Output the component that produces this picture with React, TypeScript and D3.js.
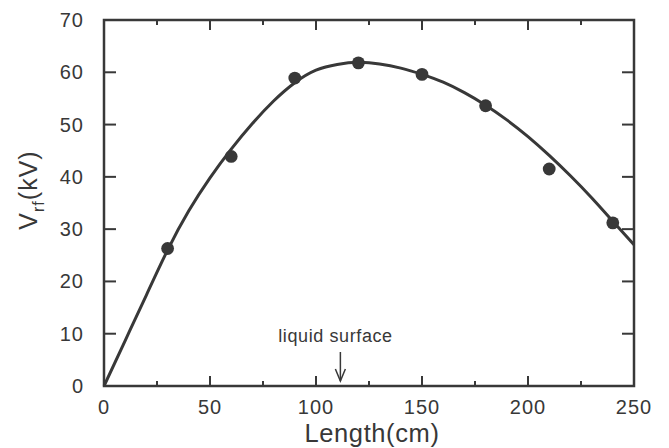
import React from "react";
import * as d3 from "d3";

// Measured points
const pointLength = [30, 60, 90, 120, 150, 180, 210, 240];
const pointVrf = [26.3, 43.9, 58.9, 61.8, 59.6, 53.6, 41.5, 31.2];

// Fitted curve
const curveLength = [0, 10, 20, 30, 40, 50, 60, 70, 80, 90, 100, 110, 120, 130, 140, 150, 160, 170, 180, 190, 200, 210, 220, 230, 240, 250];
const curveVrf = [0, 8.7, 17.4, 26.0, 33.5, 39.8, 45.3, 50.2, 54.5, 58.0, 60.4, 61.5, 61.9, 61.6, 60.8, 59.6, 58.1, 56.1, 53.7, 50.9, 47.7, 44.1, 40.2, 36.0, 31.5, 27.0];

const xMajorTicks = [0, 50, 100, 150, 200, 250];
const xMinorTicks = [25, 75, 125, 175, 225];
const yTicks = [0, 10, 20, 30, 40, 50, 60, 70];

const annotationText = "liquid surface";
const annotationLength = 111.5;

const W = 669;
const H = 448;
const left = 104;
const right = 634;
const top = 20;
const bottom = 386;
const ink = "#383838";
const font = "'Liberation Sans', Arial, Helvetica, sans-serif";

export default function App() {
  const x = d3.scaleLinear().domain([0, 250]).range([left, right]);
  const y = d3.scaleLinear().domain([0, 70]).range([bottom, top]);

  const line = d3
    .line<number>()
    .x((_, i) => x(curveLength[i]))
    .y((d) => y(d))
    .curve(d3.curveNatural);

  const ax = x(annotationLength);

  return (
    <svg
      width={W}
      height={H}
      style={{ position: "absolute", left: 0, top: 0, background: "#fff" }}
    >
      <rect x={0} y={0} width={W} height={H} fill="#fff" />
      {/* curve */}
      <path d={line(curveVrf) || ""} fill="none" stroke={ink} strokeWidth={3} />
      {/* points */}
      {pointLength.map((l, i) => (
        <circle key={i} cx={x(l)} cy={y(pointVrf[i])} r={6.4} fill={ink} />
      ))}
      {/* frame */}
      <rect
        x={left}
        y={top}
        width={right - left}
        height={bottom - top}
        fill="none"
        stroke={ink}
        strokeWidth={2.5}
      />
      {/* x ticks bottom & top */}
      {xMajorTicks.map((t) => (
        <g key={"xm" + t}>
          <line x1={x(t)} x2={x(t)} y1={bottom} y2={bottom - 10} stroke={ink} strokeWidth={2} />
          <line x1={x(t)} x2={x(t)} y1={top} y2={top + 10} stroke={ink} strokeWidth={2} />
          <text
            x={x(t)}
            y={414}
            textAnchor="middle"
            fontFamily={font}
            fontSize={20}
            letterSpacing={1}
            fill={ink}
          >
            {t}
          </text>
        </g>
      ))}
      {xMinorTicks.map((t) => (
        <g key={"xn" + t}>
          <line x1={x(t)} x2={x(t)} y1={bottom} y2={bottom - 5} stroke={ink} strokeWidth={2} />
          <line x1={x(t)} x2={x(t)} y1={top} y2={top + 5} stroke={ink} strokeWidth={2} />
        </g>
      ))}
      {/* y ticks */}
      {yTicks.map((t) => (
        <g key={"y" + t}>
          <line x1={left} x2={left + 12} y1={y(t)} y2={y(t)} stroke={ink} strokeWidth={2} />
          <line x1={right} x2={right - 12} y1={y(t)} y2={y(t)} stroke={ink} strokeWidth={2} />
          <text
            x={84}
            y={y(t) + 7}
            textAnchor="end"
            fontFamily={font}
            fontSize={20}
            letterSpacing={1}
            fill={ink}
          >
            {t}
          </text>
        </g>
      ))}
      {/* axis titles */}
      <text
        x={(left + right) / 2 + 3}
        y={442}
        textAnchor="middle"
        fontFamily={font}
        fontSize={25.5}
        letterSpacing={0.6}
        fill={ink}
      >
        Length(cm)
      </text>
      <text
        transform={`translate(37,190) rotate(-90)`}
        textAnchor="middle"
        fontFamily={font}
        fontSize={25}
        letterSpacing={1}
        fill={ink}
      >
        V
        <tspan fontSize={16} dy={7}>rf</tspan>
        <tspan dy={-7}>(kV)</tspan>
      </text>
      {/* annotation */}
      <text
        x={335.5}
        y={342}
        textAnchor="middle"
        fontFamily={font}
        fontSize={18}
        letterSpacing={0.6}
        fill={ink}
      >
        {annotationText}
      </text>
      <line x1={ax} x2={ax} y1={352} y2={381} stroke={ink} strokeWidth={1.5} />
      <path
        d={`M${ax - 5},${369} L${ax},${381} L${ax + 5},${369}`}
        fill="none"
        stroke={ink}
        strokeWidth={1.5}
      />
    </svg>
  );
}
